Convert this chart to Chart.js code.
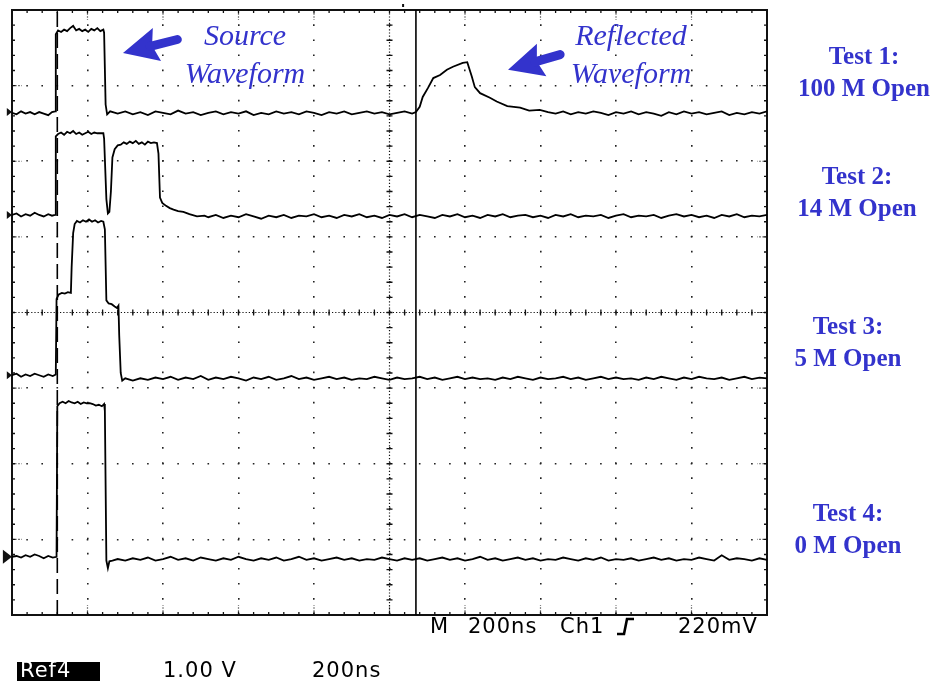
<!DOCTYPE html>
<html>
<head>
<meta charset="utf-8">
<title>TDR test waveforms</title>
<script src="https://cdn.jsdelivr.net/npm/chart.js@4.4.1/dist/chart.umd.min.js"></script>
<style>
  html, body { margin: 0; padding: 0; background: #fff; }
  #wrap { position: relative; width: 934px; height: 684px; overflow: hidden; }
  #scope { position: absolute; left: 0; top: 0; }
  .lbl { position: absolute; white-space: nowrap; }
  .test { font: bold 25px "Liberation Serif", "Times New Roman", serif; color: #3333cc;
          line-height: 32px; text-align: center; transform: translateX(-50%); }
  .note { font: italic 30px "Liberation Serif", "Times New Roman", serif; color: #3333cc;
          line-height: 38px; text-align: center; transform: translateX(-50%); }
  .tek { font: 21px "DejaVu Sans", sans-serif; color: #000; line-height: 21px; letter-spacing: 1px; }
  #ref4 { position: absolute; left: 17px; top: 662px; width: 83px; height: 19px; background: #000; }
</style>
</head>
<body>
<div id="wrap">
  <canvas id="scope" width="934" height="684"></canvas>

  <div class="lbl note" style="left:245px; top:16px">Source<br>Waveform</div>
  <div class="lbl note" style="left:631px; top:16px">Reflected<br>Waveform</div>

  <div class="lbl test" style="left:864px; top:40px">Test 1:<br>100 M Open</div>
  <div class="lbl test" style="left:857px; top:160px">Test 2:<br>14 M Open</div>
  <div class="lbl test" style="left:848px; top:310px">Test 3:<br>5 M Open</div>
  <div class="lbl test" style="left:848px; top:497px">Test 4:<br>0 M Open</div>

  <div class="lbl tek" style="left:430px; top:616px">M</div>
  <div class="lbl tek" style="left:468px; top:616px">200ns</div>
  <div class="lbl tek" style="left:560px; top:616px">Ch1</div>
  <svg class="lbl" style="left:614px; top:615px" width="22" height="22">
    <polyline points="3,19 10,19 13,4 20,4" fill="none" stroke="#000" stroke-width="2.6"/>
  </svg>
  <div class="lbl tek" style="left:678px; top:616px">220mV</div>

  <div id="ref4"></div>
  <div class="lbl tek" style="left:20px; top:660px; color:#fff">Ref4</div>
  <div class="lbl tek" style="left:163px; top:660px">1.00 V</div>
  <div class="lbl tek" style="left:312px; top:660px">200ns</div>
</div>

<script>
  // screen is 10 x 8 divisions, values below are in divisions
  const xDivs = 10;
  const yDivs = 8;

  const test1 = [
    [0,6.64],[0.06,6.62],[0.12,6.66],[0.18,6.63],[0.24,6.65],[0.3,6.62],[0.36,6.65],[0.42,6.63],[0.48,6.61],[0.53,6.65],[0.57,6.66],
    [0.58,7.68],[0.61,7.73],[0.65,7.71],[0.69,7.74],[0.73,7.72],[0.77,7.76],[0.81,7.79],[0.85,7.73],[0.89,7.75],[0.93,7.72],[0.97,7.74],
    [1.01,7.71],[1.05,7.75],[1.09,7.73],[1.13,7.76],[1.17,7.72],[1.21,7.74],
    [1.22,7.70],[1.24,6.75],[1.26,6.62],[1.3,6.66],
    [1.4,6.63],[1.5,6.66],[1.6,6.62],[1.7,6.65],[1.8,6.61],[1.9,6.66],[2.0,6.64],[2.1,6.62],[2.2,6.67],[2.3,6.63],[2.4,6.65],
    [2.5,6.61],[2.6,6.64],[2.7,6.66],[2.8,6.62],[2.9,6.65],[3.0,6.63],[3.1,6.66],[3.2,6.61],[3.3,6.64],[3.4,6.62],[3.5,6.66],
    [3.6,6.63],[3.7,6.65],[3.8,6.62],[3.9,6.66],[4.0,6.64],[4.1,6.61],[4.2,6.65],[4.3,6.63],[4.4,6.66],[4.5,6.62],[4.6,6.64],
    [4.7,6.66],[4.8,6.63],[4.9,6.65],[5.0,6.62],[5.1,6.64],[5.2,6.66],[5.3,6.63],[5.35,6.65],
    [5.40,6.72],[5.44,6.85],[5.51,6.97],[5.58,7.10],[5.67,7.14],[5.76,7.21],[5.84,7.25],[5.97,7.30],[6.03,7.31],[6.09,7.12],
    [6.13,6.98],[6.20,6.90],[6.33,6.84],[6.42,6.79],[6.56,6.73],[6.73,6.71],[6.85,6.67],[6.99,6.68],
    [7.1,6.65],[7.2,6.63],[7.3,6.66],[7.4,6.62],[7.5,6.65],[7.6,6.63],[7.7,6.66],[7.8,6.64],[7.9,6.61],[8.0,6.65],[8.1,6.63],
    [8.2,6.66],[8.3,6.62],[8.4,6.65],[8.5,6.63],[8.6,6.60],[8.7,6.65],[8.8,6.62],[8.9,6.66],[9.0,6.63],[9.1,6.65],[9.2,6.62],
    [9.3,6.64],[9.4,6.66],[9.5,6.61],[9.6,6.64],[9.7,6.62],[9.8,6.65],[9.9,6.63],[10,6.66]
  ];

  const test2 = [
    [0,5.29],[0.06,5.31],[0.12,5.27],[0.18,5.30],[0.24,5.28],[0.3,5.32],[0.36,5.29],[0.42,5.27],[0.48,5.30],[0.53,5.28],[0.57,5.29],
    [0.58,6.33],[0.61,6.36],[0.65,6.38],[0.69,6.35],[0.73,6.39],[0.77,6.37],[0.81,6.40],[0.85,6.36],[0.89,6.38],[0.93,6.35],
    [0.97,6.37],[1.01,6.39],[1.05,6.36],[1.09,6.38],[1.13,6.37],[1.17,6.37],[1.21,6.37],
    [1.22,6.30],[1.25,5.50],[1.27,5.31],[1.29,5.33],[1.31,5.60],[1.33,6.05],[1.36,6.16],[1.40,6.21],[1.44,6.22],[1.48,6.25],
    [1.52,6.23],[1.56,6.26],[1.60,6.24],[1.64,6.27],[1.68,6.23],[1.72,6.25],[1.76,6.22],[1.80,6.26],[1.84,6.24],[1.88,6.25],[1.92,6.24],
    [1.94,6.10],[1.96,5.52],[1.99,5.45],[2.04,5.41],[2.09,5.38],[2.14,5.36],[2.2,5.34],[2.27,5.33],[2.35,5.30],[2.45,5.27],[2.55,5.28],
    [2.6,5.26],[2.7,5.29],[2.8,5.25],[2.9,5.28],[3.0,5.26],[3.1,5.30],[3.2,5.27],[3.3,5.24],[3.4,5.28],[3.5,5.26],[3.6,5.29],
    [3.7,5.25],[3.8,5.28],[3.9,5.27],[4.0,5.30],[4.1,5.26],[4.2,5.28],[4.3,5.25],[4.4,5.29],[4.5,5.27],[4.6,5.30],[4.7,5.26],
    [4.8,5.28],[4.9,5.25],[5.0,5.29],[5.1,5.27],[5.2,5.30],[5.3,5.26],[5.4,5.29],[5.5,5.27],[5.6,5.25],[5.7,5.29],[5.8,5.27],
    [5.9,5.30],[6.0,5.26],[6.1,5.28],[6.2,5.25],[6.3,5.29],[6.4,5.27],[6.5,5.30],[6.6,5.26],[6.7,5.28],[6.8,5.29],[6.9,5.26],
    [7.0,5.28],[7.1,5.25],[7.2,5.29],[7.3,5.27],[7.4,5.30],[7.5,5.26],[7.6,5.28],[7.7,5.27],[7.8,5.29],[7.9,5.25],[8.0,5.28],
    [8.1,5.30],[8.2,5.26],[8.3,5.28],[8.4,5.27],[8.5,5.29],[8.6,5.25],[8.7,5.28],[8.8,5.30],[8.9,5.27],[9.0,5.29],[9.1,5.26],
    [9.2,5.28],[9.3,5.25],[9.4,5.29],[9.5,5.27],[9.6,5.30],[9.7,5.26],[9.8,5.28],[9.9,5.27],[10,5.29]
  ];

  const test3 = [
    [0,3.17],[0.06,3.19],[0.12,3.15],[0.18,3.18],[0.24,3.16],[0.3,3.19],[0.36,3.17],[0.42,3.15],[0.48,3.18],[0.54,3.16],[0.58,3.18],
    [0.59,4.18],[0.62,4.24],[0.66,4.26],[0.70,4.25],[0.74,4.27],[0.78,4.26],[0.79,4.60],[0.81,5.05],[0.83,5.17],[0.86,5.21],
    [0.9,5.19],[0.94,5.22],[0.98,5.20],[1.02,5.23],[1.06,5.20],[1.1,5.22],[1.14,5.19],[1.18,5.21],[1.21,5.20],
    [1.23,5.10],[1.25,4.16],[1.28,4.12],[1.32,4.11],[1.36,4.08],[1.39,4.06],[1.41,4.09],[1.42,3.70],[1.44,3.20],[1.46,3.10],[1.5,3.13],
    [1.6,3.10],[1.7,3.13],[1.8,3.11],[1.9,3.14],[2.0,3.12],[2.1,3.15],[2.2,3.11],[2.3,3.14],[2.4,3.12],[2.5,3.16],[2.6,3.11],
    [2.7,3.14],[2.8,3.12],[2.9,3.15],[3.0,3.13],[3.1,3.10],[3.2,3.14],[3.3,3.12],[3.4,3.15],[3.5,3.11],[3.6,3.13],[3.7,3.16],
    [3.8,3.12],[3.9,3.14],[4.0,3.11],[4.1,3.13],[4.2,3.15],[4.3,3.12],[4.4,3.14],[4.5,3.11],[4.6,3.13],[4.7,3.12],[4.8,3.15],
    [4.9,3.13],[5.0,3.11],[5.1,3.14],[5.2,3.12],[5.3,3.13],[5.4,3.15],[5.5,3.12],[5.6,3.14],[5.7,3.11],[5.8,3.13],[5.9,3.15],
    [6.0,3.12],[6.1,3.14],[6.2,3.12],[6.3,3.13],[6.4,3.11],[6.5,3.14],[6.6,3.12],[6.7,3.15],[6.8,3.13],[6.9,3.11],[7.0,3.14],
    [7.1,3.12],[7.2,3.13],[7.3,3.15],[7.4,3.12],[7.5,3.14],[7.6,3.11],[7.7,3.13],[7.8,3.15],[7.9,3.12],[8.0,3.14],[8.1,3.12],
    [8.2,3.13],[8.3,3.11],[8.4,3.14],[8.5,3.12],[8.6,3.15],[8.7,3.13],[8.8,3.11],[8.9,3.14],[9.0,3.12],[9.1,3.15],[9.2,3.13],
    [9.3,3.12],[9.4,3.14],[9.5,3.11],[9.6,3.13],[9.7,3.15],[9.8,3.12],[9.9,3.14],[10,3.13]
  ];

  const test4 = [
    [0,0.77],[0.06,0.78],[0.12,0.76],[0.18,0.79],[0.24,0.77],[0.3,0.80],[0.36,0.78],[0.42,0.75],[0.48,0.78],[0.54,0.76],[0.59,0.77],
    [0.60,2.76],[0.63,2.80],[0.67,2.82],[0.71,2.80],[0.75,2.83],[0.79,2.81],[0.83,2.80],[0.87,2.82],[0.91,2.79],[0.95,2.81],
    [0.99,2.80],[1.03,2.80],[1.07,2.79],[1.11,2.77],[1.15,2.78],[1.19,2.76],[1.22,2.79],
    [1.23,2.70],[1.25,0.72],[1.27,0.62],[1.29,0.71],[1.33,0.72],
    [1.4,0.74],[1.5,0.72],[1.6,0.75],[1.7,0.73],[1.8,0.76],[1.9,0.72],[2.0,0.74],[2.1,0.77],[2.2,0.73],[2.3,0.75],[2.4,0.72],
    [2.5,0.76],[2.6,0.74],[2.7,0.72],[2.8,0.75],[2.9,0.73],[3.0,0.77],[3.1,0.74],[3.2,0.72],[3.3,0.75],[3.4,0.73],[3.5,0.76],
    [3.6,0.72],[3.7,0.74],[3.8,0.77],[3.9,0.73],[4.0,0.75],[4.1,0.72],[4.2,0.74],[4.3,0.76],[4.4,0.73],[4.5,0.75],[4.6,0.72],
    [4.7,0.74],[4.8,0.73],[4.9,0.76],[5.0,0.74],[5.1,0.72],[5.2,0.75],[5.3,0.73],[5.4,0.75],[5.5,0.72],[5.6,0.74],[5.7,0.76],
    [5.8,0.73],[5.9,0.75],[6.0,0.72],[6.1,0.74],[6.2,0.77],[6.3,0.73],[6.4,0.75],[6.5,0.72],[6.6,0.74],[6.7,0.76],[6.8,0.73],
    [6.9,0.75],[7.0,0.72],[7.1,0.74],[7.2,0.73],[7.3,0.76],[7.4,0.74],[7.5,0.72],[7.6,0.75],[7.7,0.73],[7.8,0.76],[7.9,0.72],
    [8.0,0.74],[8.1,0.73],[8.2,0.75],[8.3,0.72],[8.4,0.74],[8.5,0.76],[8.6,0.73],[8.7,0.75],[8.8,0.72],[8.9,0.74],[9.0,0.73],
    [9.1,0.76],[9.2,0.74],[9.3,0.72],[9.4,0.79],[9.5,0.73],[9.6,0.75],[9.7,0.74],[9.8,0.72],[9.9,0.75],[10,0.73]
  ];

  // channel ground markers at the left edge (last one is the selected ref)
  const markerY = [6.65, 5.29, 3.17, 0.77];
  const markerSize = [4, 4, 4, 7];
  // cursors: dashed one at the source edge, solid one at the reflection
  const cursorDashX = 0.6;
  const cursorSolidX = 5.35;
  const triggerX = 5.18;
  // annotation arrows, tip then tail end
  const arrows = [
    [[1.47, 7.43], [2.19, 7.61]],
    [[6.57, 7.21], [7.26, 7.41]]
  ];

  function pts(list) {
    return list.map(function (p) { return { x: p[0], y: p[1] }; });
  }

  function trace(data) {
    return { data: pts(data), borderColor: "#000", borderWidth: 1.8, pointRadius: 0, tension: 0 };
  }

  const scopeGrid = {
    id: "scopeGrid",
    beforeDatasetsDraw(chart) {
      const ctx = chart.ctx, a = chart.chartArea, x = chart.scales.x, y = chart.scales.y;
      const cx = x.getPixelForValue(xDivs / 2), cy = y.getPixelForValue(yDivs / 2);
      ctx.save();
      ctx.strokeStyle = "#111";
      ctx.lineWidth = 1.2;
      ctx.setLineDash([1.2, 2]);
      ctx.beginPath();
      ctx.moveTo(a.left, cy); ctx.lineTo(a.right, cy);
      ctx.moveTo(cx, a.top); ctx.lineTo(cx, a.bottom);
      // short dense runs where major lines meet the frame
      for (let i = 1; i < xDivs; i++) {
        const px = x.getPixelForValue(i);
        ctx.moveTo(px, a.top); ctx.lineTo(px, a.top + 10);
        ctx.moveTo(px, a.bottom); ctx.lineTo(px, a.bottom - 10);
      }
      for (let j = 1; j < yDivs; j++) {
        const py = y.getPixelForValue(j);
        ctx.moveTo(a.left, py); ctx.lineTo(a.left + 10, py);
        ctx.moveTo(a.right, py); ctx.lineTo(a.right - 10, py);
      }
      ctx.stroke();
      ctx.setLineDash([]);
      ctx.lineWidth = 1.3;
      ctx.beginPath();
      for (let i = 0; i <= xDivs * 5; i++) {
        const px = x.getPixelForValue(i / 5);
        ctx.moveTo(px, a.top); ctx.lineTo(px, a.top + 3);
        ctx.moveTo(px, a.bottom); ctx.lineTo(px, a.bottom - 3);
        ctx.moveTo(px, cy - 3); ctx.lineTo(px, cy + 3);
      }
      for (let j = 0; j <= yDivs * 5; j++) {
        const py = y.getPixelForValue(j / 5);
        ctx.moveTo(a.left, py); ctx.lineTo(a.left + 3, py);
        ctx.moveTo(a.right, py); ctx.lineTo(a.right - 3, py);
        ctx.moveTo(cx - 3, py); ctx.lineTo(cx + 3, py);
      }
      ctx.stroke();
      ctx.lineWidth = 2;
      ctx.strokeRect(a.left, a.top, a.right - a.left, a.bottom - a.top);
      ctx.fillStyle = "#111";
      // trigger position mark above the frame
      ctx.fillRect(x.getPixelForValue(triggerX) - 1, a.top - 6, 2, 3);
      // ground markers pointing at the frame
      markerY.forEach(function (v, i) {
        const py = y.getPixelForValue(v), s = markerSize[i];
        ctx.beginPath();
        ctx.moveTo(a.left, py);
        ctx.lineTo(a.left - s * 1.3, py - s);
        ctx.lineTo(a.left - s * 1.3, py + s);
        ctx.closePath();
        ctx.fill();
      });
      ctx.restore();
    },
    afterDraw(chart) {
      const ctx = chart.ctx, x = chart.scales.x, y = chart.scales.y;
      ctx.save();
      ctx.fillStyle = "#3333cc";
      ctx.strokeStyle = "#3333cc";
      arrows.forEach(function (ar) {
        const tx = x.getPixelForValue(ar[0][0]), ty = y.getPixelForValue(ar[0][1]);
        const ex = x.getPixelForValue(ar[1][0]), ey = y.getPixelForValue(ar[1][1]);
        const len = Math.hypot(ex - tx, ey - ty);
        const ux = (ex - tx) / len, uy = (ey - ty) / len;
        const bx = tx + ux * 35, by = ty + uy * 35;
        ctx.beginPath();
        ctx.moveTo(tx, ty);
        ctx.lineTo(bx - uy * 17, by + ux * 17);
        ctx.lineTo(tx + ux * 30, ty + uy * 30);
        ctx.lineTo(bx + uy * 17, by - ux * 17);
        ctx.closePath();
        ctx.fill();
        ctx.lineWidth = 9;
        ctx.lineCap = "round";
        ctx.beginPath();
        ctx.moveTo(tx + ux * 28, ty + uy * 28);
        ctx.lineTo(ex, ey);
        ctx.stroke();
      });
      ctx.restore();
    }
  };

  new Chart(document.getElementById("scope"), {
    type: "line",
    data: {
      datasets: [
        { data: pts([[cursorDashX, 0], [cursorDashX, yDivs]]), borderColor: "#000", borderWidth: 1.6,
          borderDash: [15, 6], pointRadius: 0 },
        { data: pts([[cursorSolidX, 0], [cursorSolidX, yDivs]]), borderColor: "#000", borderWidth: 1.6, pointRadius: 0 },
        trace(test1),
        trace(test2),
        trace(test3),
        trace(test4)
      ]
    },
    options: {
      responsive: false,
      animation: false,
      events: [],
      layout: { padding: { left: 12, top: 10, right: 167, bottom: 69 } },
      plugins: { legend: { display: false }, tooltip: { enabled: false } },
      scales: {
        x: {
          type: "linear", min: 0, max: xDivs,
          ticks: { display: false, stepSize: 1 },
          grid: { color: "#222", lineWidth: 1.6, drawTicks: false },
          border: { display: false, dash: [1.6, 13.5], dashOffset: 0.8 }
        },
        y: {
          type: "linear", min: 0, max: yDivs,
          ticks: { display: false, stepSize: 1 },
          grid: { color: "#222", lineWidth: 1.6, drawTicks: false },
          border: { display: false, dash: [1.6, 13.5], dashOffset: 0.8 }
        }
      }
    },
    plugins: [scopeGrid]
  });
</script>
</body>
</html>
